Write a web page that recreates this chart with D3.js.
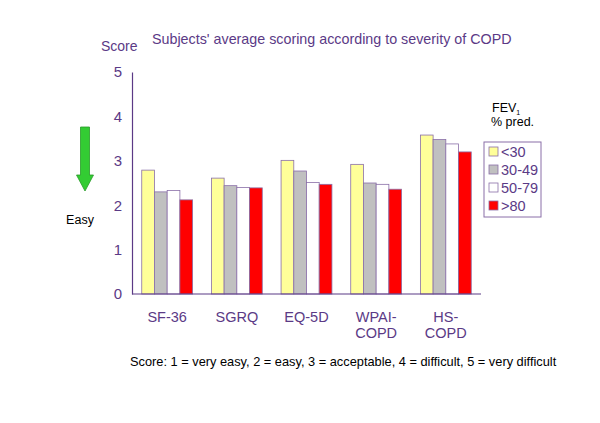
<!DOCTYPE html>
<html><head><meta charset="utf-8">
<script src="https://cdn.jsdelivr.net/npm/d3@7"></script>
<style>body{margin:0;background:#fff}svg{display:block;font-family:"Liberation Sans",Arial,sans-serif}</style>
</head><body>
<svg id="c" width="600" height="423"></svg>
<script>
const categories = [["SF-36"],["SGRQ"],["EQ-5D"],["WPAI-","COPD"],["HS-","COPD"]];
const seriesNames = ["<30","30-49","50-79",">80"];
const seriesColors = ["#ffff99","#c0c0c0","#ffffff","#ff0000"];
const values = [
  [2.79, 2.30, 2.33, 2.12],
  [2.61, 2.44, 2.40, 2.39],
  [3.01, 2.77, 2.51, 2.47],
  [2.92, 2.50, 2.47, 2.36],
  [3.58, 3.48, 3.38, 3.20]
];
const yTicks = [0,1,2,3,4,5];

const purple = "#5b3a86";
const svg = d3.select("#c");
const x0 = d3.scaleBand().domain(d3.range(categories.length)).range([132, 481]).paddingInner(0.27).paddingOuter(0.14);
const x1 = d3.scaleBand().domain(d3.range(seriesNames.length)).range([0, x0.bandwidth()]);
const y = d3.scaleLinear().domain([0,5]).range([294, 72]);

// title
svg.append("text").attr("x",152).attr("y",44).attr("fill",purple).attr("font-size",14.3).text("Subjects' average scoring according to severity of COPD");
svg.append("text").attr("x",101).attr("y",51).attr("fill",purple).attr("font-size",14).text("Score");

// bars
const g = svg.append("g");
values.forEach((row,i)=>{
  row.forEach((v,j)=>{
    g.append("rect").attr("x",x0(i)+x1(j)).attr("y",y(v)).attr("width",x1.bandwidth()).attr("height",y(0)-y(v))
     .attr("fill",seriesColors[j]).attr("stroke","#8a6fa8").attr("stroke-width",0.8);
  });
});

// axes
const ya = svg.append("g").attr("transform","translate(132,0)").call(d3.axisLeft(y).tickValues(yTicks).tickFormat(d3.format("d")).tickSize(0).tickPadding(10));
ya.select(".domain").attr("stroke",purple).attr("stroke-width",1.2);
ya.selectAll("text").attr("fill",purple).attr("font-size",15).attr("font-family","Liberation Sans, Arial, sans-serif");
svg.append("line").attr("x1",132).attr("x2",481).attr("y1",y(0)).attr("y2",y(0)).attr("stroke",purple).attr("stroke-width",1.2);

// category labels
categories.forEach((lines,i)=>{
  const cx = x0(i)+x0.bandwidth()/2;
  lines.forEach((t,k)=>{
    svg.append("text").attr("x",cx).attr("y",322+k*16).attr("text-anchor","middle").attr("fill",purple).attr("font-size",14.5).text(t);
  });
});

// legend
const fev = svg.append("text").attr("x",492).attr("y",112).attr("fill","#000").attr("font-size",12.5);
fev.append("tspan").text("FEV");
fev.append("tspan").attr("font-size",7).attr("dy",3).text("1");
svg.append("text").attr("x",491).attr("y",126).attr("fill","#000").attr("font-size",12.5).text("% pred.");
svg.append("rect").attr("x",484).attr("y",142).attr("width",57).attr("height",75).attr("fill","#fff").attr("stroke","#8a6fa8").attr("stroke-width",1);
seriesNames.forEach((n,j)=>{
  const yy = 147+j*18;
  svg.append("rect").attr("x",489).attr("y",yy).attr("width",9).attr("height",9).attr("fill",seriesColors[j]).attr("stroke","#8a6fa8").attr("stroke-width",0.8);
  svg.append("text").attr("x",501).attr("y",yy+10).attr("fill",purple).attr("font-size",14.5).text(n);
});

// arrow
const ax=85;
svg.append("path").attr("d",`M${ax-4.5},127 L${ax+4.5},127 L${ax+4.5},175 L${ax+8.5},175 L${ax},191 L${ax-8.5},175 L${ax-4.5},175 Z`)
  .attr("fill","#33cc33").attr("stroke","#2a9a2a").attr("stroke-width",0.8);
svg.append("text").attr("x",80).attr("y",224).attr("text-anchor","middle").attr("fill","#000").attr("font-size",12.5).text("Easy");

// footnote
svg.append("text").attr("x",130).attr("y",366).attr("fill","#000").attr("font-size",12.8).text("Score: 1 = very easy, 2 = easy, 3 = acceptable, 4 = difficult, 5 = very difficult");
</script>
</body></html>
